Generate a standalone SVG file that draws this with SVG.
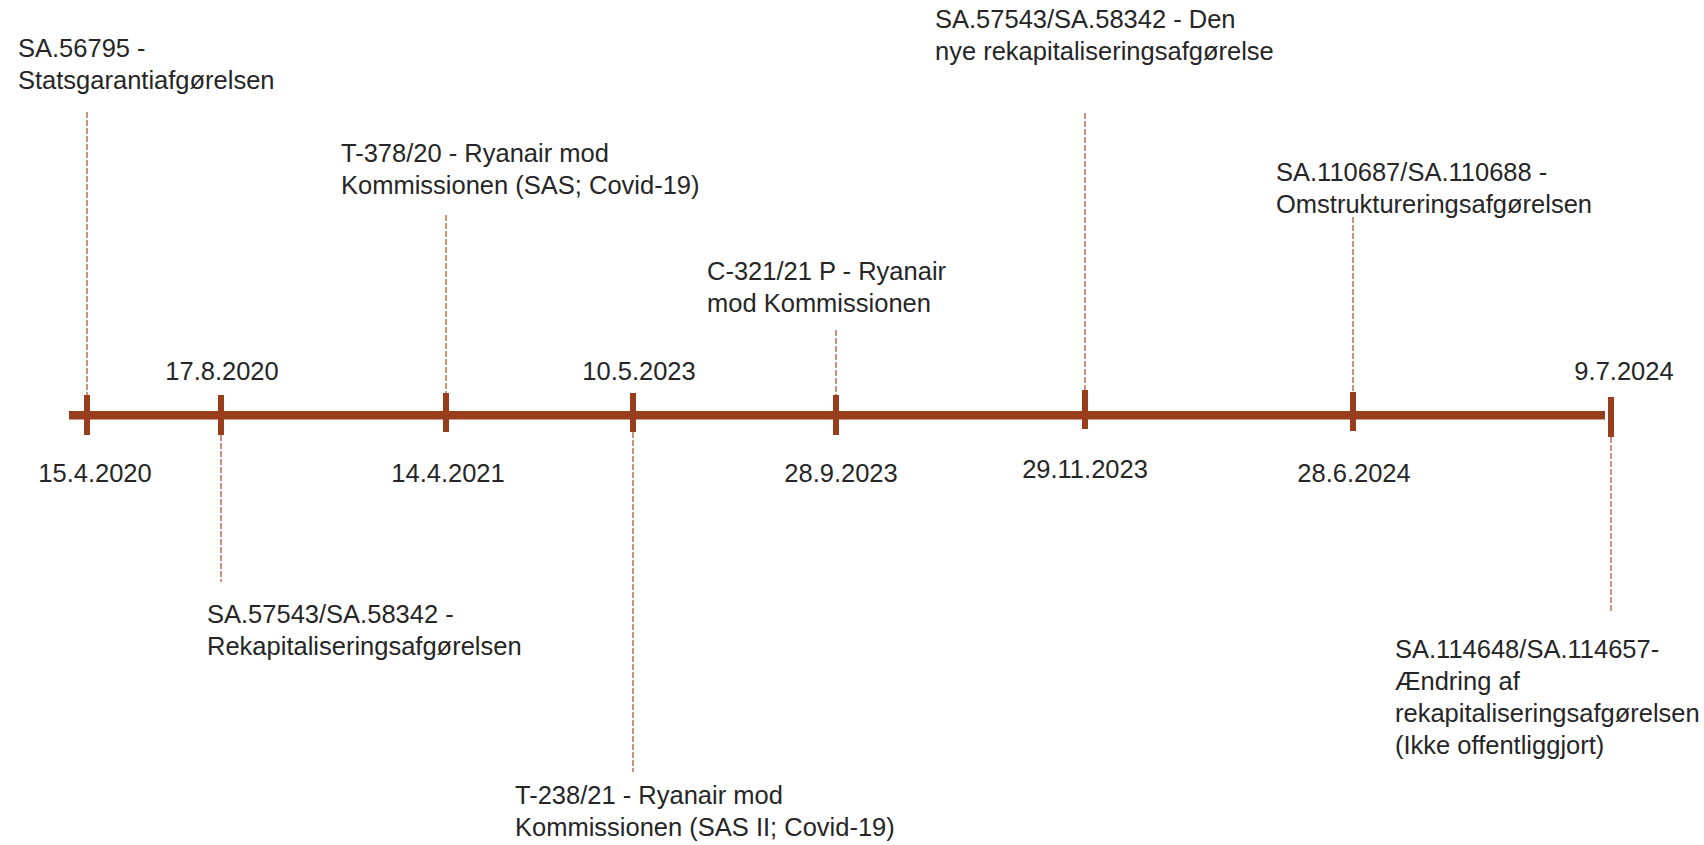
<svg xmlns="http://www.w3.org/2000/svg" width="1704" height="845" viewBox="0 0 1704 845">
<style>
.t{font-family:"Liberation Sans",Arial,sans-serif;font-size:25.5px;fill:#262626}
.c{text-anchor:middle}
.tick{fill:#983E1C}
.dash{stroke:#B8654A;stroke-width:1.4;stroke-dasharray:6 2;fill:none}
</style>
<rect width="1704" height="845" fill="#ffffff"/>
<g id="connectors">
<line class="dash" x1="87" y1="112" x2="87" y2="395"/>
<line class="dash" x1="221" y1="435" x2="221" y2="582"/>
<line class="dash" x1="446" y1="215" x2="446" y2="393"/>
<line class="dash" x1="633" y1="432" x2="633" y2="772"/>
<line class="dash" x1="836" y1="330" x2="836" y2="395"/>
<line class="dash" x1="1085" y1="113" x2="1085" y2="390"/>
<line class="dash" x1="1353" y1="217" x2="1353" y2="392"/>
<line class="dash" x1="1611" y1="437" x2="1611" y2="613"/>
</g>
<g id="axis">
<rect x="69" y="411" width="1536" height="8.5" fill="#983E1C"/>
</g>
<g id="tick-15-4-2020"><rect class="tick" x="84" y="395" width="6" height="40"/><text class="t c" x="95" y="482">15.4.2020</text></g>
<g id="tick-17-8-2020"><rect class="tick" x="218" y="395" width="6" height="40"/><text class="t c" x="222" y="380">17.8.2020</text></g>
<g id="tick-14-4-2021"><rect class="tick" x="443" y="393" width="6" height="39"/><text class="t c" x="448" y="482">14.4.2021</text></g>
<g id="tick-10-5-2023"><rect class="tick" x="630" y="393" width="6" height="39"/><text class="t c" x="639" y="380">10.5.2023</text></g>
<g id="tick-28-9-2023"><rect class="tick" x="833" y="395" width="6" height="40"/><text class="t c" x="841" y="482">28.9.2023</text></g>
<g id="tick-29-11-2023"><rect class="tick" x="1082" y="390" width="6" height="39"/><text class="t c" x="1085" y="478">29.11.2023</text></g>
<g id="tick-28-6-2024"><rect class="tick" x="1350" y="392" width="6" height="39"/><text class="t c" x="1354" y="482">28.6.2024</text></g>
<g id="tick-9-7-2024"><rect class="tick" x="1608" y="397" width="6" height="40"/><text class="t c" x="1624" y="380">9.7.2024</text></g>
<g id="event-sa56795"><text class="t" x="18" y="57">SA.56795 -</text><text class="t" x="18" y="89">Statsgarantiafgørelsen</text></g>
<g id="event-sa57543-1"><text class="t" x="207" y="623">SA.57543/SA.58342 -</text><text class="t" x="207" y="655">Rekapitaliseringsafgørelsen</text></g>
<g id="event-t378"><text class="t" x="341" y="162">T-378/20 - Ryanair mod</text><text class="t" x="341" y="194">Kommissionen (SAS; Covid-19)</text></g>
<g id="event-t238"><text class="t" x="515" y="804">T-238/21 - Ryanair mod</text><text class="t" x="515" y="836">Kommissionen (SAS II; Covid-19)</text></g>
<g id="event-c321"><text class="t" x="707" y="280">C-321/21 P - Ryanair</text><text class="t" x="707" y="312">mod Kommissionen</text></g>
<g id="event-sa57543-2"><text class="t" x="935" y="28">SA.57543/SA.58342 - Den</text><text class="t" x="935" y="60">nye rekapitaliseringsafgørelse</text></g>
<g id="event-sa110687"><text class="t" x="1276" y="181">SA.110687/SA.110688 -</text><text class="t" x="1276" y="213">Omstruktureringsafgørelsen</text></g>
<g id="event-sa114648"><text class="t" x="1395" y="658">SA.114648/SA.114657-</text><text class="t" x="1395" y="690">Ændring af</text><text class="t" x="1395" y="722">rekapitaliseringsafgørelsen</text><text class="t" x="1395" y="754">(Ikke offentliggjort)</text></g>
</svg>
